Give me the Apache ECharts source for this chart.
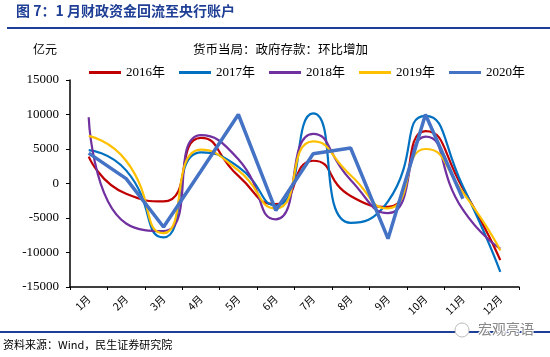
<!DOCTYPE html>
<html><head><meta charset="utf-8">
<script src="https://cdn.jsdelivr.net/npm/echarts@6/dist/echarts.min.js"></script>
<style>html,body{margin:0;padding:0;background:#fff}#c{width:550px;height:357px}</style>
</head><body><div id="c"></div>
<script>
var months = ['1月','2月','3月','4月','5月','6月','7月','8月','9月','10月','11月','12月'];
var s2016 = [3900, -1500, -2600, 6600, 1100, -3000, 3300, -1800, -3400, 7600, -700, -11100];
var s2017 = [4850, 1900, -7800, 4500, 2400, -3200, 10150, -5700, -2600, 9800, -400, -12800];
var s2018 = [9600, -5800, -6900, 7000, 3500, -5200, 7200, 500, -4300, 6800, -3800, -9450];
var s2019 = [6900, 3300, -7200, 4900, 1900, -3600, 6100, 1200, -3600, 5000, -1300, -9700];
var s2020 = [4400, 700, -6300, 1800, 10000, -3900, 4300, 5150, -8000, 10000, -2200, null];
var yTicks = [-15000, 15000, 5000];

var serif = '"Liberation Serif","Times New Roman","Noto Sans CJK SC",serif';
var chart = echarts.init(document.getElementById('c'));
function mk(name, data, color, width, smooth) {
  return {name: name, type: 'line', data: data, smooth: smooth ? 0.6 : false,
    showSymbol: false, symbol: 'none', xAxisIndex: 0,
    lineStyle: {color: color, width: width}, itemStyle: {color: color}};
}
chart.setOption({
  animation: false,
  textStyle: {fontFamily: serif},
  grid: {left: 70, right: 31, top: 80, bottom: 70},
  legend: {
    top: 61, left: 84, itemGap: 14, itemWidth: 32, itemHeight: 3, icon: 'rect',
    textStyle: {fontFamily: serif, fontSize: 13, color: '#000'},
    data: ['2016年','2017年','2018年','2019年','2020年']
  },
  xAxis: [{
    type: 'category', data: months, position: 'bottom', boundaryGap: true,
    axisLine: {show: false}, axisTick: {show: false},
    axisLabel: {rotate: 45, margin: 10, fontSize: 10.5, color: '#000', fontFamily: '"Noto Sans CJK SC",serif'}
  }, {
    type: 'category', data: months, position: 'bottom', boundaryGap: true,
    axisLine: {show: true, onZero: true, lineStyle: {color: '#000', width: 1.5}},
    axisTick: {show: true, inside: false, length: 3, lineStyle: {color: '#000'}},
    axisLabel: {show: false}
  }],
  yAxis: {
    type: 'value', min: yTicks[0], max: yTicks[1], interval: yTicks[2],
    axisLine: {show: true, lineStyle: {color: '#000', width: 1.5}},
    axisTick: {show: true, length: 4, lineStyle: {color: '#000'}},
    splitLine: {show: false},
    axisLabel: {fontSize: 13, color: '#000', fontFamily: serif, margin: 11,
      formatter: function (v) { return String(v); }}
  },
  series: [
    mk('2016年', s2016, '#C00000', 2.2, true),
    mk('2017年', s2017, '#0070C0', 2.2, true),
    mk('2018年', s2018, '#7030A0', 2.2, true),
    mk('2019年', s2019, '#FFC000', 2.2, true),
    mk('2020年', s2020, '#4472C4', 3.5, false)
  ],
  graphic: [
    {type: 'text', left: 16, top: 4, style: {text: '图 7：1 月财政资金回流至央行账户', font: 'bold 14px "Noto Sans CJK SC",serif', fill: '#1F3F96'}},
    {type: 'rect', shape: {x: 7, y: 27, width: 543, height: 2}, style: {fill: '#1F3F96'}},
    {type: 'text', left: 33, top: 43, style: {text: '亿元', font: '12px "Noto Sans CJK SC",serif', fill: '#000'}},
    {type: 'text', left: 193, top: 43, style: {text: '货币当局：政府存款：环比增加', font: '12.5px "Noto Sans CJK SC",serif', fill: '#000'}},
    {type: 'rect', shape: {x: 0, y: 331, width: 550, height: 2}, style: {fill: '#1F3F96'}},
    {type: 'text', left: 3, top: 339, style: {text: '资料来源：Wind，民生证券研究院', font: '11px "Noto Sans CJK SC",serif', fill: '#000'}},
    {type: 'circle', shape: {cx: 462, cy: 330, r: 7}, style: {fill: '#fff', stroke: '#bbb', lineWidth: 1}},
    {type: 'text', left: 477, top: 321, style: {text: '宏观亮语', font: '14px "Noto Sans CJK SC",sans-serif', fill: '#888', stroke: '#fff', lineWidth: 2}}
  ]
});
</script></body></html>
